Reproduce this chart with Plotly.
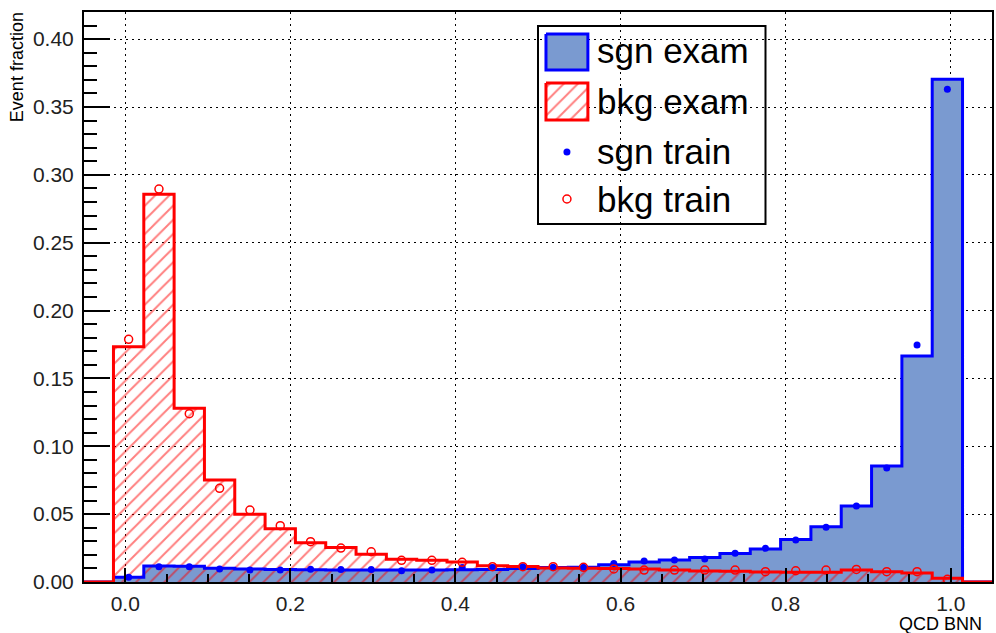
import numpy as np
import plotly.graph_objects as go

# ---- binning of the QCD BNN output histograms ----
N_BINS = 28
BIN_LO, BIN_HI = -0.0143, 1.0143
edges = np.linspace(BIN_LO, BIN_HI, N_BINS + 1)
centers = 0.5 * (edges[:-1] + edges[1:])
bin_width = edges[1] - edges[0]

# ---- event fractions per bin ----
sgn_exam = [0.0035, 0.0118, 0.0116, 0.0102, 0.0095, 0.0093, 0.0090, 0.0088,
            0.0088, 0.0088, 0.0088, 0.0090, 0.0092, 0.0100, 0.0106, 0.0108,
            0.0128, 0.0148, 0.0162, 0.0180, 0.0210, 0.0243, 0.0314, 0.0408,
            0.0560, 0.0855, 0.1665, 0.3705]
bkg_exam = [0.1733, 0.2858, 0.1280, 0.0751, 0.0499, 0.0393, 0.0290, 0.0255,
            0.0204, 0.0168, 0.0160, 0.0148, 0.0120, 0.0115, 0.0104, 0.0101,
            0.0100, 0.0096, 0.0088, 0.0081, 0.0080, 0.0073, 0.0071, 0.0071,
            0.0088, 0.0076, 0.0066, 0.0028]
sgn_train = [0.0035, 0.0113, 0.0113, 0.0096, 0.0088, 0.0088, 0.0094, 0.0093,
             0.0093, 0.0082, 0.0088, 0.0106, 0.0106, 0.0113, 0.0108, 0.0108,
             0.0137, 0.0155, 0.0162, 0.0170, 0.0211, 0.0248, 0.0310, 0.0403,
             0.0560, 0.0840, 0.1746, 0.3630]
bkg_train = [0.1788, 0.2895, 0.1240, 0.0690, 0.0530, 0.0415, 0.0297, 0.0250,
             0.0223, 0.0160, 0.0160, 0.0145, 0.0113, 0.0113, 0.0113, 0.0108,
             0.0096, 0.0088, 0.0088, 0.0088, 0.0088, 0.0076, 0.0083, 0.0088,
             0.0093, 0.0076, 0.0076, 0.0020]

x_ticks = [0.0, 0.2, 0.4, 0.6, 0.8, 1.0]
y_ticks = [0.00, 0.05, 0.10, 0.15, 0.20, 0.25, 0.30, 0.35, 0.40]
X_RANGE = [-0.05, 1.05]
Y_RANGE = [0.0, 0.42]

BLUE = "#0000ff"
BLUE_FILL = "#7a9ad0"
RED = "#ff0000"
FONT = "Liberation Sans, Arial, Helvetica, sans-serif"

W, H = 996, 633
ML, MR, MT, MB = 84, 2, 12, 51


def step_outline(vals):
    """Histogram contour including the empty under/overflow stretch."""
    xs = [X_RANGE[0]] + list(edges) + [X_RANGE[1]]
    ys = [0.0] + list(vals) + [0.0, 0.0]
    return xs, ys


def px_x(px):
    return (px - ML) / (W - ML - MR)


def px_y(py):
    return (H - MB - py) / (H - MT - MB)


fig = go.Figure()

# signal histogram fill
fig.add_trace(go.Bar(
    x=centers, y=sgn_exam, width=bin_width,
    marker=dict(color=BLUE_FILL, line=dict(width=0)),
    showlegend=False, hoverinfo="skip"))

# background histogram hatch
fig.add_trace(go.Bar(
    x=centers, y=bkg_exam, width=bin_width,
    marker=dict(color="rgba(0,0,0,0)", line=dict(width=0),
                pattern=dict(shape="/", fgcolor=RED, bgcolor="rgba(0,0,0,0)",
                             size=10, solidity=0.2, fillmode="overlay")),
    showlegend=False, hoverinfo="skip"))

sx, sy = step_outline(sgn_exam)
fig.add_trace(go.Scatter(x=sx, y=sy, mode="lines", line=dict(color=BLUE, width=3, shape="hv"),
                         showlegend=False, hoverinfo="skip"))
bx, by = step_outline(bkg_exam)
fig.add_trace(go.Scatter(x=bx, y=by, mode="lines", line=dict(color=RED, width=3, shape="hv"),
                         showlegend=False, hoverinfo="skip"))

# training samples
fig.add_trace(go.Scatter(x=centers, y=sgn_train, mode="markers",
                         marker=dict(symbol="circle", size=7, color=BLUE),
                         showlegend=False))
fig.add_trace(go.Scatter(x=centers, y=bkg_train, mode="markers",
                         marker=dict(symbol="circle-open", size=8, color=RED,
                                     line=dict(width=1.5, color=RED)),
                         showlegend=False))

# ---- legend drawn in pixel space on an overlay axis ----
LEG_X0, LEG_X1 = 547, 589
fig.add_trace(go.Scatter(
    x=[LEG_X0, LEG_X1, LEG_X1, LEG_X0, LEG_X0], y=[34, 34, 70, 70, 34],
    xaxis="x2", yaxis="y2", mode="lines", fill="toself", fillcolor=BLUE_FILL,
    line=dict(color=BLUE, width=3), showlegend=False, hoverinfo="skip"))
fig.add_trace(go.Scatter(
    x=[LEG_X0, LEG_X1, LEG_X1, LEG_X0, LEG_X0], y=[83, 83, 120, 120, 83],
    xaxis="x2", yaxis="y2", mode="lines", fill="toself", fillcolor="rgba(0,0,0,0)",
    fillpattern=dict(shape="/", fgcolor=RED, bgcolor="white", size=10,
                     solidity=0.2, fillmode="overlay"),
    line=dict(color=RED, width=3), showlegend=False, hoverinfo="skip"))
fig.add_trace(go.Scatter(
    x=[568], y=[152], xaxis="x2", yaxis="y2", mode="markers",
    marker=dict(symbol="circle", size=7, color=BLUE), showlegend=False, hoverinfo="skip"))
fig.add_trace(go.Scatter(
    x=[568], y=[199], xaxis="x2", yaxis="y2", mode="markers",
    marker=dict(symbol="circle-open", size=8, color=RED, line=dict(width=1.5, color=RED)),
    showlegend=False, hoverinfo="skip"))

legend_labels = ["sgn exam", "bkg exam", "sgn train", "bkg train"]
legend_rows = [51, 101, 151, 199]

annotations = []
for lab, row in zip(legend_labels, legend_rows):
    annotations.append(dict(
        text=lab, xref="paper", yref="paper", x=px_x(596), y=px_y(row),
        xanchor="left", yanchor="middle", showarrow=False,
        font=dict(family=FONT, size=35, color="black")))

annotations.append(dict(
    text="Event fraction", xref="paper", yref="paper", x=px_x(17), y=px_y(67),
    xanchor="center", yanchor="middle", textangle=-90, showarrow=False,
    font=dict(family=FONT, size=18, color="black")))
annotations.append(dict(
    text="QCD BNN", xref="paper", yref="paper", x=px_x(986), y=px_y(624),
    xanchor="right", yanchor="middle", showarrow=False,
    font=dict(family=FONT, size=18, color="black")))

shapes = [dict(type="rect", xref="paper", yref="paper",
               x0=px_x(539), x1=px_x(767), y0=px_y(224), y1=px_y(26),
               fillcolor="white", line=dict(color="black", width=2), layer="between")]

grid_common = dict(showgrid=True, gridcolor="black", gridwidth=1, griddash="2px,4px",
                   zeroline=False, showline=True, linecolor="black", linewidth=2,
                   mirror=True, ticks="inside", tickcolor="black",
                   tickfont=dict(family=FONT, size=21, color="#222"))

fig.update_layout(
    width=W, height=H,
    margin=dict(l=ML, r=MR, t=MT, b=MB, pad=0),
    paper_bgcolor="white", plot_bgcolor="white",
    barmode="overlay", bargap=0,
    showlegend=False,
    xaxis=dict(range=X_RANGE, tickvals=x_ticks, tickformat=".1f",
               ticklen=14, tickwidth=2, ticklabelstandoff=2,
               minor=dict(ticks="inside", dtick=0.05, tick0=0, ticklen=8,
                          tickwidth=2, tickcolor="black", showgrid=False),
               **grid_common),
    yaxis=dict(range=Y_RANGE, tickvals=y_ticks, tickformat=".2f",
               ticklen=26, tickwidth=2, ticklabelstandoff=4,
               minor=dict(ticks="inside", dtick=0.01, tick0=0, ticklen=13,
                          tickwidth=2, tickcolor="black", showgrid=False),
               **grid_common),
    xaxis2=dict(overlaying="x", range=[ML, W - MR], visible=False, fixedrange=True),
    yaxis2=dict(overlaying="y", range=[H - MB, MT], visible=False, fixedrange=True),
    shapes=shapes,
    annotations=annotations,
)

fig.write_html("out.html")
